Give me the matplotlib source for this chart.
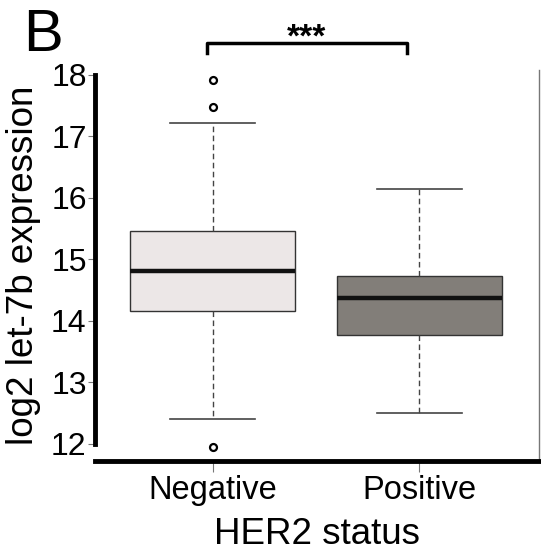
import matplotlib
matplotlib.use("Agg")
import matplotlib.pyplot as plt

plt.rcParams['font.family'] = ['Liberation Sans', 'DejaVu Sans']

# box statistics
groups = ["Negative", "Positive"]
q1 = [14.16, 13.77]
medians = [14.81, 14.37]
q3 = [15.46, 14.73]
whis_lo = [12.41, 12.50]
whis_hi = [17.22, 16.15]
fliers = [[17.92, 17.48, 11.95], []]
box_colors = ["#ECE7E7", "#827E79"]
yticks = [12, 13, 14, 15, 16, 17, 18]

fig = plt.figure(figsize=(5.41, 5.55), dpi=100)
ax = fig.add_axes([0.1756, 0.1694, 0.8207, 0.7045])

stats = []
for i in range(len(groups)):
    stats.append(dict(label=groups[i], med=medians[i], q1=q1[i], q3=q3[i],
                      whislo=whis_lo[i], whishi=whis_hi[i], fliers=fliers[i]))

bp = ax.bxp(stats, positions=[1, 2], widths=0.8, patch_artist=True,
            capwidths=0.41,
            boxprops=dict(edgecolor="#333333", linewidth=1.0),
            medianprops=dict(color="#111111", linewidth=3.2),
            whiskerprops=dict(color="#444444", linewidth=1.0, linestyle=(0, (4, 2.5))),
            capprops=dict(color="#444444", linewidth=1.2),
            flierprops=dict(marker="o", markersize=5, markerfacecolor="white",
                            markeredgecolor="black", markeredgewidth=1.6))
for patch, c in zip(bp["boxes"], box_colors):
    patch.set_facecolor(c)

ax.set_xlim(0.43, 2.58)
ax.set_ylim(11.72, 18.08)
ax.set_yticks(yticks)
ax.set_yticklabels([str(t) for t in yticks], fontsize=23)
ax.set_xticks([1, 2])
ax.set_xticklabels(groups, fontsize=23.5)

ax.spines["top"].set_visible(False)
ax.spines["left"].set_linewidth(3.5)
ax.spines["left"].set_bounds(12, 18)
ax.spines["bottom"].set_linewidth(3.5)
ax.spines["right"].set_linewidth(1.0)
ax.spines["right"].set_color("#777777")
ax.tick_params(axis="y", length=5, width=0.8, color="#777777", pad=1)
ax.tick_params(axis="x", length=8, width=0.8, color="#777777", pad=2)

ax.set_ylabel("log2 let-7b expression", fontsize=26.5, labelpad=7)
ax.set_xlabel("HER2 status", fontsize=26.5, labelpad=8)

# significance bracket
ax.plot([0.97, 0.97, 1.94, 1.94], [18.36, 18.52, 18.52, 18.36], color="black",
        linewidth=2.5, clip_on=False)
ax.text(1.455, 18.35, "***", ha="center", va="bottom", fontsize=24, fontweight="bold")

fig.text(0.042, 0.909, "B", fontsize=43, ha="left", va="baseline")

fig.savefig("out.png", dpi=100)
